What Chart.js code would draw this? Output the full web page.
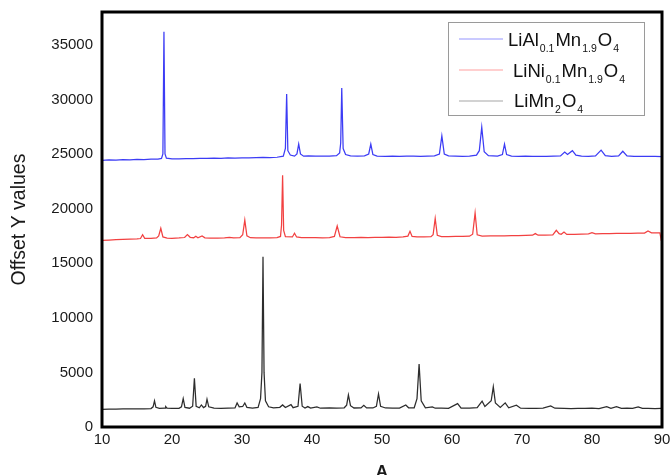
<!DOCTYPE html>
<html>
<head>
<meta charset="utf-8">
<script src="https://cdn.jsdelivr.net/npm/chart.js@4/dist/chart.umd.min.js"></script>
<style>
  html, body { margin: 0; padding: 0; background: #ffffff; }
  #wrap { width: 670px; height: 475px; position: relative; }
</style>
</head>
<body>
<div id="wrap"><canvas id="c" width="670" height="475"></canvas></div>
<script>
// ---------- data ----------
const xTicks = [10, 20, 30, 40, 50, 60, 70, 80, 90];
const yTicks = [0, 5000, 10000, 15000, 20000, 25000, 30000, 35000];

const seriesNames = ['LiAl0.1Mn1.9O4', 'LiNi0.1Mn1.9O4', 'LiMn2O4'];
// legend labels split into [text, isSubscript]
const legendParts = [
  [['LiAl', 0], ['0.1', 1], ['Mn', 0], ['1.9', 1], ['O', 0], ['4', 1]],
  [['LiNi', 0], ['0.1', 1], ['Mn', 0], ['1.9', 1], ['O', 0], ['4', 1]],
  [['LiMn', 0], ['2', 1], ['O', 0], ['4', 1]]
];

// LiAl0.1Mn1.9O4 (blue, top)
const alX = [10, 11, 12, 13, 14, 15, 16, 17, 18, 18.5, 18.7, 18.85, 19.0, 19.2, 20, 21, 22, 23, 24, 25, 26, 27, 28, 29, 30, 31, 32, 33, 34, 35,
  35.9, 36.2, 36.38, 36.55, 36.9, 37.5, 37.85, 38.1, 38.35, 38.8, 39.5, 40.5, 41.5, 42.5, 43.5, 43.95, 44.1, 44.25, 44.45, 44.8,
  45.5, 46.5, 47.5, 48.1, 48.4, 48.7, 49.3, 50.5, 51.5, 52.5, 53.5, 54.5, 55.5, 56.5, 57.5, 58.2, 58.55, 58.9, 59.5, 60.5, 61.5,
  62.5, 63.5, 63.9, 64.25, 64.6, 65.2, 66.5, 67.2, 67.5, 67.8, 68.5, 69.5, 70.5, 71.5, 72.5, 73.5, 74.5, 75.5, 76.1, 76.5, 77.2,
  77.7, 78.5, 79.5, 80.5, 81.3, 81.9, 82.8, 83.8, 84.4, 85.0, 86, 87, 88, 89, 90];
const alY = [24420, 24450, 24440, 24480, 24470, 24500, 24490, 24520, 24530, 24600, 25000, 36200, 25000, 24620, 24560, 24550, 24580, 24570, 24600, 24590, 24620, 24600, 24640, 24620, 24650, 24640, 24660, 24680, 24670, 24700,
  24800, 25500, 30500, 25300, 24900, 24800, 25000, 25900, 25000, 24800, 24820, 24800, 24810, 24800, 24850, 25100, 26000, 31050, 25500, 24950,
  24820, 24800, 24830, 25000, 25900, 24950, 24800, 24780, 24800, 24790, 24810, 24800, 24790, 24810, 24820, 25000, 26650, 25000, 24820, 24800, 24790,
  24800, 24900, 25300, 27450, 25200, 24850, 24800, 24950, 25900, 24950, 24800, 24790, 24800, 24780, 24790, 24780, 24800, 24820, 25180, 24950, 25300,
  24900, 24800, 24780, 24820, 25350, 24850, 24790, 24820, 25250, 24820, 24780, 24790, 24770, 24780, 24760];

// LiNi0.1Mn1.9O4 (red, middle)
const niX = [10, 11, 12, 13, 14, 15, 15.5, 15.8, 16.1, 17, 17.8, 18.1, 18.4, 18.7, 19.3, 20, 21, 21.8, 22.2, 22.6, 23.1, 23.4, 23.7, 24.3, 24.7,
  25.5, 26.5, 27.5, 28.2, 28.8, 29.7, 30.1, 30.4, 30.7, 31.2, 32, 33, 34, 35, 35.5, 35.65, 35.8, 35.95, 36.2, 37.2, 37.5, 37.8, 38.5,
  39.5, 40.5, 41.5, 42.5, 43.2, 43.6, 44, 44.8, 46, 47, 48, 49, 50, 51, 52, 53, 53.7, 54.0, 54.3, 55, 56, 57, 57.3, 57.6, 57.9, 58.5,
  59.5, 60.5, 61.5, 62.5, 62.95, 63.3, 63.6, 64.3, 65.5, 66.5, 67.5, 68.5, 69.5, 70.5, 71.5, 71.9, 72.3, 73.3, 74.4, 74.9, 75.3, 75.6,
  76, 76.4, 77.5, 78.5, 79.5, 80, 80.5, 81.5, 82.5, 83.5, 84.5, 85.5, 86.5, 87.5, 88, 88.5, 89.3, 89.7, 89.9, 90];
const niY = [17080, 17120, 17150, 17170, 17200, 17220, 17260, 17600, 17270, 17280, 17320, 17500, 18200, 17400, 17300, 17280, 17310, 17350, 17620, 17370, 17330, 17460, 17320, 17500, 17320,
  17300, 17290, 17310, 17360, 17310, 17330, 17600, 18950, 17500, 17330, 17320, 17310, 17320, 17340, 17450, 18500, 23050, 18000, 17420, 17400, 17740, 17400, 17350,
  17330, 17340, 17320, 17350, 17450, 18400, 17420, 17350, 17340, 17360, 17350, 17370, 17360, 17380, 17370, 17400, 17480, 17920, 17450, 17400, 17420, 17430, 17600, 19100, 17550, 17430,
  17440, 17450, 17460, 17470, 17650, 19600, 17600, 17480, 17490, 17500, 17510, 17520, 17530, 17540, 17560, 17710, 17560, 17580, 17600, 18010, 17700, 17650,
  17860, 17640, 17640, 17660, 17680, 17800, 17690, 17700, 17710, 17720, 17730, 17740, 17750, 17760, 17950, 17780, 17770, 17780, 17100, 17100];

// LiMn2O4 (black, bottom)
const mnX = [10, 11, 12, 13, 14, 15, 16, 17, 17.3, 17.5, 17.7, 18.2, 19, 19.1, 19.3, 20, 21, 21.35, 21.6, 21.85, 22.5, 22.95, 23.2, 23.45, 23.9,
  24.2, 24.5, 24.8, 25.0, 25.25, 26, 27, 28, 29, 29.3, 29.6, 30.1, 30.4, 30.7, 31.5, 32.3, 32.65, 32.85, 33.0, 33.15, 33.35, 33.8, 34.5,
  35.4, 35.8, 36.2, 37, 37.3, 38.0, 38.3, 38.6, 39.0, 39.4, 39.8, 40.7, 41.2, 42.5, 43.5, 44.6, 44.95, 45.2, 45.5, 46, 47, 47.4, 47.8,
  48.7, 49.2, 49.5, 49.8, 50.5, 51.5, 52.5, 53.4, 53.8, 54.6, 55.0, 55.3, 55.6, 56.2, 57.2, 57.6, 58.5, 59.5, 60.8, 61.3, 62.5, 63.6,
  64.3, 64.7, 65.6, 65.9, 66.2, 66.9, 67.6, 68.1, 69.2, 69.8, 71, 72, 73, 74.1, 74.7, 76, 77, 78, 79, 80, 81, 82.1, 82.7, 83.5, 84.2,
  85, 85.8, 86.6, 87.2, 88, 89, 89.9];
const mnY = [1620, 1640, 1630, 1660, 1650, 1670, 1660, 1690, 1850, 2400, 1800, 1700, 1720, 1870, 1720, 1700, 1710, 1850, 2600, 1800, 1720, 1900, 4450, 1900, 1760,
  2020, 1780, 1900, 2550, 1850, 1720, 1710, 1720, 1740, 2200, 1850, 1880, 2200, 1800, 1740, 1800, 2600, 5000, 15600, 5000, 2400, 1850, 1750,
  1800, 2020, 1780, 2050, 1770, 1900, 3980, 1900, 1740, 1870, 1730, 1840, 1720, 1740, 1720, 1760, 2000, 2940, 1950, 1740, 1750, 1990, 1750,
  1740, 1900, 3020, 1900, 1740, 1720, 1730, 2020, 1760, 1760, 2600, 5760, 2400, 1760, 1840, 1720, 1730, 1710, 2140, 1730, 1720, 1780,
  2360, 1880, 2400, 3680, 2200, 1800, 2210, 1760, 1990, 1720, 1710, 1700, 1720, 1930, 1720, 1700, 1690, 1710, 1700, 1720, 1690, 1870, 1710, 1860, 1700,
  1720, 1700, 1840, 1700, 1710, 1690, 1700];

const lineColors = ['rgb(60,60,245)', 'rgb(242,65,65)', 'rgb(45,45,45)'];
const legendLineColors = ['rgb(150,150,255)', 'rgb(255,160,160)', 'rgb(165,165,165)'];

// ---------- helpers ----------
function pairs(xs, ys) { return xs.map((x, i) => ({ x: x, y: ys[i] })); }
const FONT = "'Liberation Sans', Arial, sans-serif";

function noEdgePadding(s) {
  s.paddingTop = 0; s.paddingBottom = 0; s.paddingLeft = 0; s.paddingRight = 0;
}

const framePlugin = {
  id: 'frame',
  afterDatasetsDraw(chart) {
    const { ctx, chartArea: a } = chart;
    ctx.save();
    ctx.strokeStyle = '#000';
    ctx.lineWidth = 3;
    ctx.strokeRect(a.left, a.top, a.right - a.left, a.bottom - a.top);
    ctx.restore();
  }
};

const subLegendPlugin = {
  id: 'subLegend',
  afterDraw(chart) {
    const { ctx, chartArea: a } = chart;
    const boxL = a.right - 214, boxT = a.top + 10, boxW = 196, boxH = 93;
    ctx.save();
    ctx.fillStyle = '#fff';
    ctx.fillRect(boxL, boxT, boxW, boxH);
    ctx.strokeStyle = '#9a9a9a';
    ctx.lineWidth = 1;
    ctx.strokeRect(boxL + 0.5, boxT + 0.5, boxW, boxH);
    const rows = [
      { lineY: 17, textX: 60, base: 24 },
      { lineY: 48, textX: 65, base: 55 },
      { lineY: 79, textX: 66, base: 85 }
    ];
    legendParts.forEach((parts, i) => {
      const r = rows[i];
      ctx.strokeStyle = legendLineColors[i];
      ctx.lineWidth = 1.2;
      ctx.beginPath();
      ctx.moveTo(boxL + 11, boxT + r.lineY);
      ctx.lineTo(boxL + 55, boxT + r.lineY);
      ctx.stroke();
      let x = boxL + r.textX;
      ctx.fillStyle = '#111';
      ctx.textBaseline = 'alphabetic';
      ctx.textAlign = 'left';
      parts.forEach(([t, sub]) => {
        ctx.font = sub ? ('10.5px ' + FONT) : ('18.5px ' + FONT);
        const y = boxT + r.base + (sub ? 6 : 0);
        ctx.fillText(t, x, y);
        x += ctx.measureText(t).width + 1;
      });
    });
    ctx.restore();
  }
};

new Chart(document.getElementById('c'), {
  type: 'line',
  data: {
    datasets: [
      { label: seriesNames[0], data: pairs(alX, alY), borderColor: lineColors[0], borderWidth: 1.25, pointRadius: 0, tension: 0, fill: false },
      { label: seriesNames[1], data: pairs(niX, niY), borderColor: lineColors[1], borderWidth: 1.25, pointRadius: 0, tension: 0, fill: false },
      { label: seriesNames[2], data: pairs(mnX, mnY), borderColor: lineColors[2], borderWidth: 1.25, pointRadius: 0, tension: 0, fill: false }
    ]
  },
  options: {
    responsive: false,
    animation: false,
    devicePixelRatio: 1,
    layout: { padding: { top: 12, right: 8, left: 0, bottom: 0 } },
    plugins: { legend: { display: false }, tooltip: { enabled: false } },
    scales: {
      x: {
        type: 'linear',
        min: 10, max: 90,
        afterBuildTicks: (s) => { s.ticks = xTicks.map(v => ({ value: v })); },
        grid: { display: false, drawTicks: false, tickLength: 0 },
        border: { display: false },
        ticks: { padding: 4, color: '#1a1a1a', font: { family: FONT, size: 15 }, callback: (v) => String(v) },
        title: { display: true, text: 'A', color: '#1a1a1a', padding: 0, font: { family: FONT, size: 17, weight: 'bold', lineHeight: 0.32 } },
        afterFit: (s) => { s.height = 48; noEdgePadding(s); }
      },
      y: {
        type: 'linear',
        min: 0, max: 38000,
        afterBuildTicks: (s) => { s.ticks = yTicks.map(v => ({ value: v })); },
        grid: { display: false, drawTicks: false, tickLength: 0 },
        border: { display: false },
        ticks: { padding: 9, color: '#1a1a1a', font: { family: FONT, size: 15 }, callback: (v) => String(v) },
        title: { display: true, text: 'Offset Y values', color: '#1a1a1a', padding: { top: 8, bottom: 0 }, font: { family: FONT, size: 19.5 } },
        afterFit: (s) => { s.width = 102; noEdgePadding(s); }
      }
    }
  },
  plugins: [framePlugin, subLegendPlugin]
});
</script>
</body>
</html>
